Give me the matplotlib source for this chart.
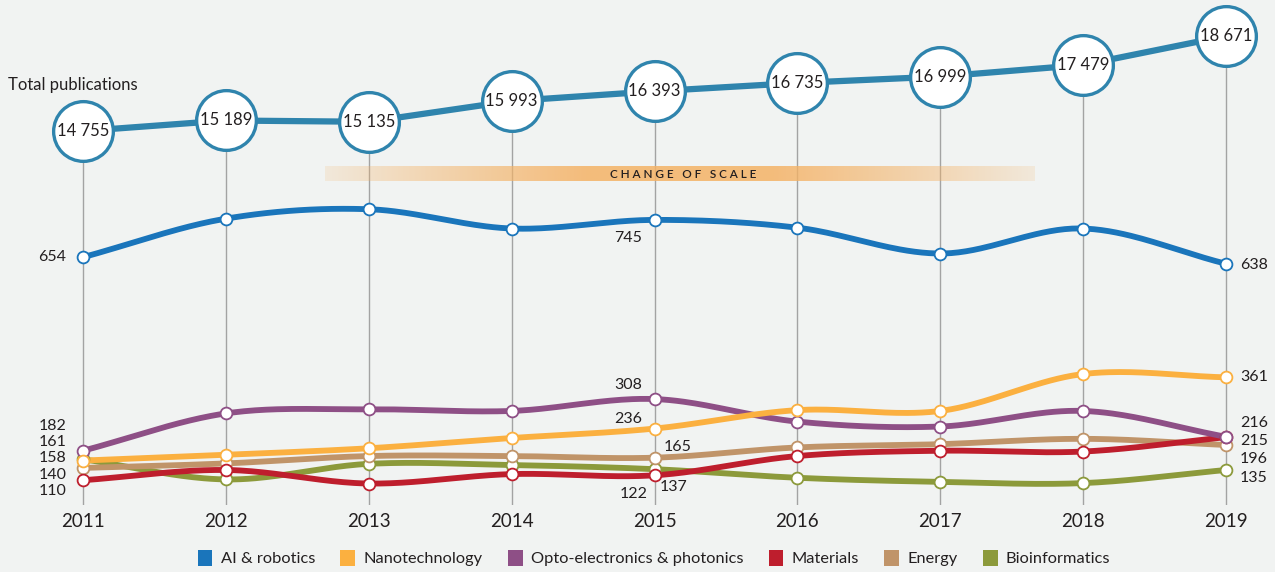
import numpy as np
import matplotlib
matplotlib.use('Agg')
import matplotlib.pyplot as plt
from matplotlib.patches import Patch

# fonts and colours
plt.rcParams['font.family'] = ['Lato', 'DejaVu Sans']
BG = '#f1f3f2'
TXT = '#231f20'
GRID = '#a3a3a3'
TOTAL_COL = '#2f84ad'

years = [2011, 2012, 2013, 2014, 2015, 2016, 2017, 2018, 2019]
total = [14755, 15189, 15135, 15993, 16393, 16735, 16999, 17479, 18671]

names = ['AI & robotics', 'Nanotechnology', 'Opto-electronics & photonics',
         'Materials', 'Energy', 'Bioinformatics']
colors = ['#1a75bb', '#fbb040', '#8e4f86', '#be1e2d', '#c09469', '#8c9a3b']
ai = [654, 748, 771, 724, 745, 726, 663, 724, 638]
nano = [158, 172, 188, 213, 236, 281, 279, 369, 361]
opto = [182, 273, 283, 279, 308, 253, 241, 279, 216]
materials = [110, 135, 102, 125, 122, 169, 182, 180, 215]
energy = [140, 151, 169, 169, 165, 190, 198, 211, 196]
bio = [161, 112, 150, 147, 137, 116, 106, 103, 135]
series = [ai, nano, opto, materials, energy, bio]

# value labels: (series index, year index, ha, dx pt, dy pt)
labels = [
    (0, 0, 'right', -12, 0), (2, 0, 'right', -12, 18), (5, 0, 'right', -12, 12.7),
    (1, 0, 'right', -12, 2), (4, 0, 'right', -12, -5), (3, 0, 'right', -12, -8),
    (0, 8, 'left', 10, -1), (1, 8, 'left', 10, 0), (2, 8, 'left', 10, 10),
    (3, 8, 'left', 10, -3), (4, 8, 'left', 10, -10), (5, 8, 'left', 10, -5.5),
    (0, 4, 'center', -19, -13), (2, 4, 'center', -19, 10), (1, 4, 'center', -19, 7),
    (4, 4, 'center', 16.5, 7.7), (3, 4, 'center', -15, -13.5), (5, 4, 'center', 13.7, -12.7),
]


def smooth(x, y, n=40):
    """Catmull-Rom style cubic through the points"""
    x = np.asarray(x, float)
    y = np.asarray(y, float)
    m = np.zeros_like(y)
    m[1:-1] = (y[2:] - y[:-2]) / (x[2:] - x[:-2])
    m[0] = (y[1] - y[0]) / (x[1] - x[0])
    m[-1] = (y[-1] - y[-2]) / (x[-1] - x[-2])
    xs, ys = [], []
    for i in range(len(x) - 1):
        h = x[i + 1] - x[i]
        t = np.linspace(0, 1, n)
        h00 = 2 * t**3 - 3 * t**2 + 1
        h10 = t**3 - 2 * t**2 + t
        h01 = -2 * t**3 + 3 * t**2
        h11 = t**3 - t**2
        xs.append(x[i] + t * h)
        ys.append(h00 * y[i] + h10 * h * m[i] + h01 * y[i + 1] + h11 * h * m[i + 1])
    return np.concatenate(xs), np.concatenate(ys)


fig = plt.figure(figsize=(12.75, 5.72), dpi=100, facecolor=BG)
W, H = 1275, 572
xlim = (2011 - 83 / 142.875, 2019 + 49 / 142.875)

# lower panel
ax = fig.add_axes([0, (H - 505) / H, 1, 340 / H], facecolor=BG)
ax.set_xlim(xlim)
ax.set_ylim(49.6, 878.9)
for y in years:
    ax.axvline(y, color=GRID, lw=1, zorder=1)
for vals, c in reversed(list(zip(series, colors))):
    sx, sy = smooth(years, vals)
    ax.plot(sx, sy, color=c, lw=4.2, solid_capstyle='round', zorder=2)
for vals, c in reversed(list(zip(series, colors))):
    ax.plot(years, vals, 'o', ms=8.5, mfc='white', mec=c, mew=1.3, zorder=3)
for si, yi, ha, dx, dy in labels:
    v = series[si][yi]
    ax.annotate(str(v), (years[yi], v), xytext=(dx, dy), textcoords='offset points',
                ha=ha, va='center', fontsize=11.5, color=TXT, zorder=5)
ax.set_xticks(years)
ax.set_xticklabels([str(y) for y in years])
ax.tick_params(axis='x', length=0, pad=6, labelsize=13.5, labelcolor=TXT)
ax.set_yticks([])
for s in ax.spines.values():
    s.set_visible(False)

# top panel: total publications
top = fig.add_axes([0, (H - 165) / H, 1, 165 / H], facecolor=BG)
top.set_xlim(xlim)
top.set_ylim(13354, 20155)
top.vlines(years, 13354, total, color=GRID, lw=1, zorder=1)
top.plot(years, total, color=TOTAL_COL, lw=4.5, zorder=2)
top.plot(years, total, 'o', ms=43, mfc='white', mec=TOTAL_COL, mew=2.4, zorder=3)
for y, v in zip(years, total):
    top.text(y, v, f'{v:,}'.replace(',', ' '), ha='center', va='center',
             fontsize=12, color=TXT, zorder=4)
top.text(8 / W, 1 - 85 / 165, 'Total publications', transform=top.transAxes,
         ha='left', va='center', fontsize=12, color=TXT)
top.axis('off')

# change of scale band
band = fig.add_axes([325 / W, (H - 181) / H, 710 / W, 15 / H])
gx = np.linspace(-1, 1, 400)
alpha = np.clip(1.2 - np.abs(gx) ** 1.2, 0, 1) * 0.85
img = np.zeros((1, 400, 4))
img[..., 0] = 0.96
img[..., 1] = 0.70
img[..., 2] = 0.40
img[..., 3] = alpha
band.imshow(img, aspect='auto', extent=(0, 1, 0, 1))
band.text(0.505, 0.45, ' '.join('CHANGE') + '   ' + ' '.join('OF') + '   ' + ' '.join('SCALE'),
          ha='center', va='center', fontsize=8.5, color=TXT, fontweight='semibold')
band.axis('off')

# legend
handles = [Patch(facecolor=c, edgecolor='none', label=n) for n, c in zip(names, colors)]
fig.legend(handles=handles, loc='center', bbox_to_anchor=(654 / W, (H - 558) / H),
           ncol=6, frameon=False, fontsize=11.8, handlelength=0.9, handleheight=1.1,
           handletextpad=0.5, columnspacing=1.55, labelcolor=TXT)

fig.savefig('out.png', dpi=100, facecolor=BG)
